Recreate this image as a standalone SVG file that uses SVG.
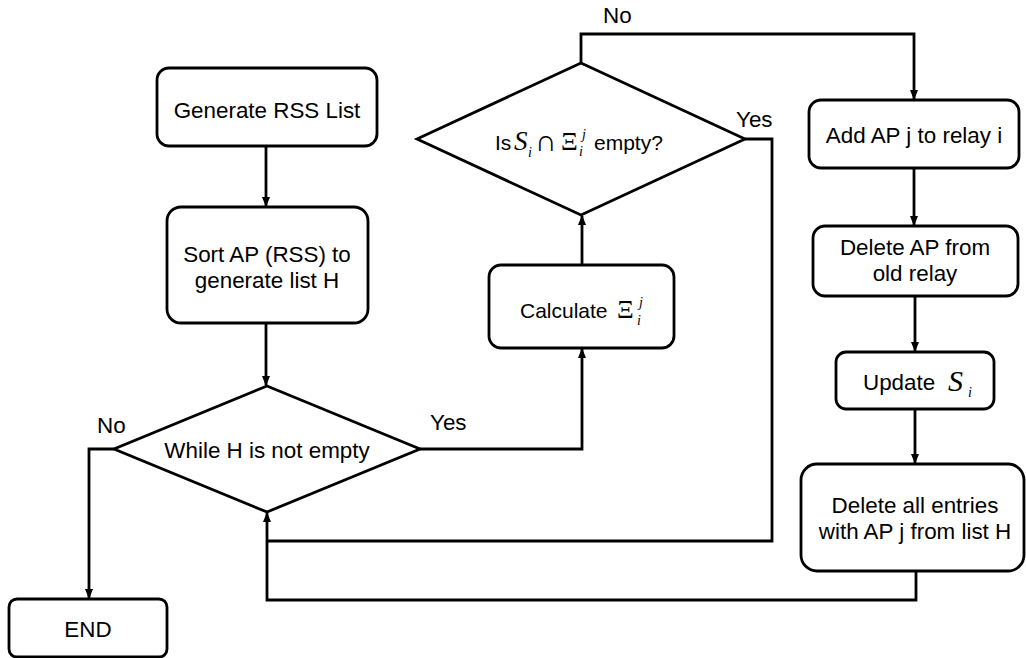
<svg xmlns="http://www.w3.org/2000/svg" width="1026" height="658" viewBox="0 0 1026 658">
<style>
.box{fill:#fff;stroke:#000;stroke-width:2.8}
.dia{fill:#fff;stroke:#000;stroke-width:2.8}
.t{font-family:"Liberation Sans",Arial,sans-serif;font-size:22.4px;fill:#000}
.s{font-family:"Liberation Sans",Arial,sans-serif;font-size:21px;fill:#000}
.m{font-family:"Liberation Serif","Times New Roman",serif;font-style:italic;fill:#000}
.g{font-family:"Liberation Serif","Times New Roman",serif;fill:#000}
.c{fill:none;stroke:#000;stroke-width:2.8}
</style>
<defs>
<marker id="ah" markerWidth="10" markerHeight="10" refX="9" refY="5" orient="auto" markerUnits="userSpaceOnUse">
<path d="M0,1 L10,5 L0,9 Z" fill="#000"/>
</marker>
</defs>
<rect width="1026" height="658" fill="#fff"/>
<g id="connectors">
<path class="c" d="M266,146 V206" marker-end="url(#ah)"/>
<path class="c" d="M266,323 V385" marker-end="url(#ah)"/>
<path class="c" d="M420,449 H582 V349" marker-end="url(#ah)"/>
<path class="c" d="M582,265 V216" marker-end="url(#ah)"/>
<path class="c" d="M581,63 V34 H914 V99" marker-end="url(#ah)"/>
<path class="c" d="M914,168 V225" marker-end="url(#ah)"/>
<path class="c" d="M915,296 V351" marker-end="url(#ah)"/>
<path class="c" d="M915,409 V463" marker-end="url(#ah)"/>
<path class="c" d="M916,571 V600 H267 V513" marker-end="url(#ah)"/>
<path class="c" d="M745,139 H772 V541 H267"/>
<path class="c" d="M114,449 H89 V598" marker-end="url(#ah)"/>
</g>
<g id="n-generate">
<rect class="box" x="157" y="68" width="220" height="78" rx="12"/>
<text class="t" x="267" y="118" text-anchor="middle">Generate RSS List</text>
</g>
<g id="n-sort">
<rect class="box" x="167" y="207" width="201" height="116" rx="14"/>
<text class="t" x="267" y="262" text-anchor="middle">Sort AP (RSS) to</text>
<text class="t" x="267" y="288" text-anchor="middle">generate list H</text>
</g>
<g id="n-while">
<polygon class="dia" points="267,386 420,449 267,512 114,449"/>
<text class="t" x="267" y="458" text-anchor="middle">While H is not empty</text>
</g>
<g id="n-end">
<rect class="box" x="9" y="599" width="158" height="58" rx="8"/>
<text class="t" x="88" y="637" text-anchor="middle">END</text>
</g>
<g id="n-calc">
<rect class="box" x="489" y="265" width="185" height="83" rx="12"/>
<text class="s" x="520" y="318">Calculate</text>
<text class="g" x="617" y="318" font-size="26">Ξ</text>
<text class="m" x="639" y="307" font-size="14">j</text>
<text class="m" x="637" y="325" font-size="14">i</text>
</g>
<g id="n-is">
<polygon class="dia" points="581,63 745,139 581,215 417,139"/>
<text class="s" x="495" y="150">Is</text>
<text class="m" x="514" y="150" font-size="27">S</text>
<text class="m" x="528" y="157" font-size="14">i</text>
<text class="g" x="535" y="151" font-size="30">∩</text>
<text class="g" x="561" y="150" font-size="26">Ξ</text>
<text class="m" x="582" y="139" font-size="14">j</text>
<text class="m" x="579" y="156" font-size="14">i</text>
<text class="s" x="594" y="150">empty?</text>
</g>
<g id="n-add">
<rect class="box" x="809" y="100" width="210" height="68" rx="12"/>
<text class="t" x="914" y="143" text-anchor="middle">Add AP j to relay i</text>
</g>
<g id="n-delete-ap">
<rect class="box" x="813" y="226" width="205" height="70" rx="12"/>
<text class="t" x="915" y="255" text-anchor="middle">Delete AP from</text>
<text class="t" x="915" y="281" text-anchor="middle">old relay</text>
</g>
<g id="n-update">
<rect class="box" x="836" y="352" width="158" height="57" rx="10"/>
<text class="t" x="863" y="390" font-size="21.5">Update</text>
<text class="m" x="948" y="391" font-size="30">S</text>
<text class="m" x="968" y="397" font-size="14">i</text>
</g>
<g id="n-delete-all">
<rect class="box" x="801" y="464" width="223" height="107" rx="16"/>
<text class="t" x="915" y="513" text-anchor="middle">Delete all entries</text>
<text class="t" x="915" y="539" text-anchor="middle">with AP j from list H</text>
</g>
<g id="labels">
<text class="t" x="603" y="23">No</text>
<text class="t" x="97" y="433">No</text>
<text class="t" x="430" y="430">Yes</text>
<text class="t" x="736" y="127">Yes</text>
</g>
</svg>
